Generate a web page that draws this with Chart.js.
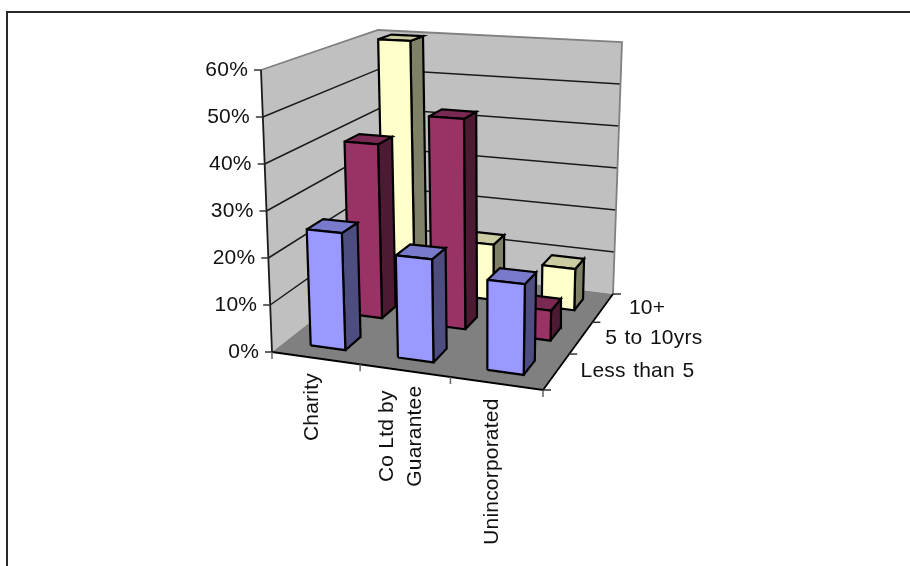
<!DOCTYPE html>
<html>
<head>
<meta charset="utf-8">
<title>3D column chart</title>
<script src="https://cdn.jsdelivr.net/npm/chart.js@4/dist/chart.umd.min.js"></script>
<style>
  html, body { margin: 0; padding: 0; background: #fff; }
  canvas { display: block; }
</style>
</head>
<body>
<canvas id="chart" width="910" height="566"></canvas>
<script>
/* chart values */
const categories = [['Charity'], ['Co Ltd by', 'Guarantee'], ['Unincorporated']];
const seriesNames = ['Less than 5', '5 to 10yrs', '10+'];
const lessThan5 = [25, 21.5, 18.5];
const fiveTo10 = [39.5, 46.7, 6.5];
const tenPlus = [60, 13, 9.5];
const valueTicks = [0, 10, 20, 30, 40, 50, 60];
const maxValue = 60;

const seriesValues = [lessThan5, fiveTo10, tenPlus];
const seriesFaces = [
  { front: '#9999ff', side: '#4d4d80', top: '#7a7acc' },
  { front: '#993366', side: '#4d1a33', top: '#7a2952' },
  { front: '#ffffcc', side: '#808066', top: '#cccca3' }
];

/* corners of the plot box on screen: floor and the plane at maxValue */
const floorBox = { fl: [272, 352], fr: [543, 390], br: [613, 294], bl: [383, 265] };
const roofBox = { fl: [261, 70], fr: [549, 88], br: [622, 42], bl: [378, 30] };

// maps the unit square onto a quad
function quadMap(q) {
  const [x0, y0] = q.fl, [x1, y1] = q.fr, [x2, y2] = q.br, [x3, y3] = q.bl;
  const dx1 = x1 - x2, dx2 = x3 - x2, sx = x0 - x1 + x2 - x3;
  const dy1 = y1 - y2, dy2 = y3 - y2, sy = y0 - y1 + y2 - y3;
  const det = dx1 * dy2 - dx2 * dy1;
  const g = (sx * dy2 - dx2 * sy) / det;
  const h = (dx1 * sy - sx * dy1) / det;
  return (u, v) => {
    const w = g * u + h * v + 1;
    return [
      ((x1 - x0 + g * x1) * u + (x3 - x0 + h * x3) * v + x0) / w,
      ((y1 - y0 + g * y1) * u + (y3 - y0 + h * y3) * v + y0) / w
    ];
  };
}
const floorAt = quadMap(floorBox);
const roofAt = quadMap(roofBox);

// u along the categories, v into the depth, value in percent
function project(u, v, value) {
  const a = floorAt(u, v), b = roofAt(u, v), t = value / maxValue;
  return { x: a[0] + (b[0] - a[0]) * t, y: a[1] + (b[1] - a[1]) * t };
}

const faces = [];
function addFace(points, fill, stroke, width) {
  faces.push({
    data: fill ? [...points, points[0]] : points,
    showLine: true,
    fill: fill ? 'shape' : false,
    backgroundColor: fill || 'transparent',
    borderColor: stroke || 'transparent',
    borderWidth: stroke ? width : 0,
    borderJoinStyle: 'miter',
    pointRadius: 0,
    pointHoverRadius: 0,
    clip: false
  });
}
function offset(p, dx, dy) { return { x: p.x + dx, y: p.y + dy }; }

/* walls */
addFace([project(0, 0, 0), project(0, 1, 0), project(0, 1, maxValue), project(0, 0, maxValue)], '#c0c0c0');
addFace([project(0, 1, 0), project(1, 1, 0), project(1, 1, maxValue), project(0, 1, maxValue)], '#c0c0c0');

/* gridlines on both walls */
valueTicks.slice(1, -1).forEach(t => {
  addFace([project(0, 0, t), project(0, 1, t), project(1, 1, t)], null, '#1a1a1a', 1.5);
});
addFace([project(0, 0, maxValue), project(0, 1, maxValue), project(1, 1, maxValue), project(1, 1, 0)], null, '#808080', 1.8);

/* floor */
addFace([project(0, 0, 0), project(1, 0, 0), project(1, 1, 0), project(0, 1, 0)], '#808080');
addFace([project(0, 0, 0), project(1, 0, 0), project(1, 1, 0)], null, '#000', 1.8);
addFace([project(0, 0, maxValue), project(0, 0, 0)], null, '#1a1a1a', 1.8);

/* axis tick marks */
valueTicks.forEach(t => {
  const p = project(0, 0, t);
  addFace([p, offset(p, -7, 0)], null, '#333', 1.5);
});
categories.forEach((c, i) => {
  const p = project(i / categories.length, 0, 0);
  addFace([p, offset(p, 0, 7)], null, '#666', 1.5);
});
const endTick = project(1, 0, 0);
addFace([endTick, offset(endTick, 0, 7)], null, '#666', 1.5);
for (let j = 0; j <= seriesNames.length; j++) {
  const p = project(1, j / seriesNames.length, 0);
  addFace([p, offset(p, 8, 0)], null, '#333', 1.5);
}

/* columns, back row first so nearer ones cover them */
const GAP = 0.3;
for (let j = seriesNames.length - 1; j >= 0; j--) {
  categories.forEach((c, i) => {
    const value = seriesValues[j][i];
    const u0 = (i + GAP) / categories.length, u1 = (i + 1 - GAP) / categories.length;
    const v0 = (j + GAP) / seriesNames.length, v1 = (j + 1 - GAP) / seriesNames.length;
    const colors = seriesFaces[j];
    addFace([project(u1, v0, 0), project(u1, v1, 0), project(u1, v1, value), project(u1, v0, value)], colors.side, '#000', 2.2);
    addFace([project(u0, v0, value), project(u1, v0, value), project(u1, v1, value), project(u0, v1, value)], colors.top, '#000', 2.2);
    addFace([project(u0, v0, 0), project(u1, v0, 0), project(u1, v0, value), project(u0, v0, value)], colors.front, '#000', 2.2);
  });
}

/* outer frame: top and left rules only */
addFace([{ x: 7, y: 566 }, { x: 7, y: 12 }, { x: 910, y: 12 }], null, '#2a2a2a', 2);

const seriesLabelGap = [24, 24, 26];

/* axis text */
const axisText = {
  id: 'axisText',
  afterDraw(chart) {
    const ctx = chart.ctx;
    ctx.save();
    ctx.fillStyle = '#111';
    ctx.font = '21px "Liberation Sans", Arial, sans-serif';
    ctx.letterSpacing = '0.2px';
    ctx.textBaseline = 'middle';

    ctx.textAlign = 'right';
    valueTicks.forEach(t => {
      const p = project(0, 0, t);
      ctx.fillText(t + '%', p.x - 13, p.y);
    });

    ctx.textAlign = 'left';
    ctx.wordSpacing = '1.5px';
    seriesNames.forEach((name, j) => {
      const p = project(1, (j + 0.5) / seriesNames.length, 0);
      ctx.fillText(name, p.x + seriesLabelGap[j], p.y);
    });
    ctx.wordSpacing = '0px';

    // rotated category names, wrapped lines centred on each other
    ctx.textAlign = 'right';
    categories.forEach((lines, i) => {
      const p = project((i + 0.5) / categories.length, 0, 0);
      const widest = Math.max(...lines.map(l => ctx.measureText(l).width));
      lines.forEach((line, k) => {
        const x = p.x - 4 + (k - (lines.length - 1) / 2) * 28;
        const y = p.y + 15 + (widest - ctx.measureText(line).width) / 2;
        ctx.save();
        ctx.translate(x, y);
        ctx.rotate(-Math.PI / 2);
        ctx.fillText(line, 0, 0);
        ctx.restore();
      });
    });
    ctx.restore();
  }
};

new Chart(document.getElementById('chart'), {
  type: 'scatter',
  data: { datasets: faces.slice().reverse() },
  options: {
    responsive: false,
    animation: false,
    events: [],
    layout: { padding: 0 },
    scales: {
      x: { type: 'linear', display: false, min: 0, max: 910 },
      y: { type: 'linear', display: false, min: 0, max: 566, reverse: true }
    },
    plugins: { legend: { display: false }, tooltip: { enabled: false } }
  },
  plugins: [axisText]
});
</script>
</body>
</html>
